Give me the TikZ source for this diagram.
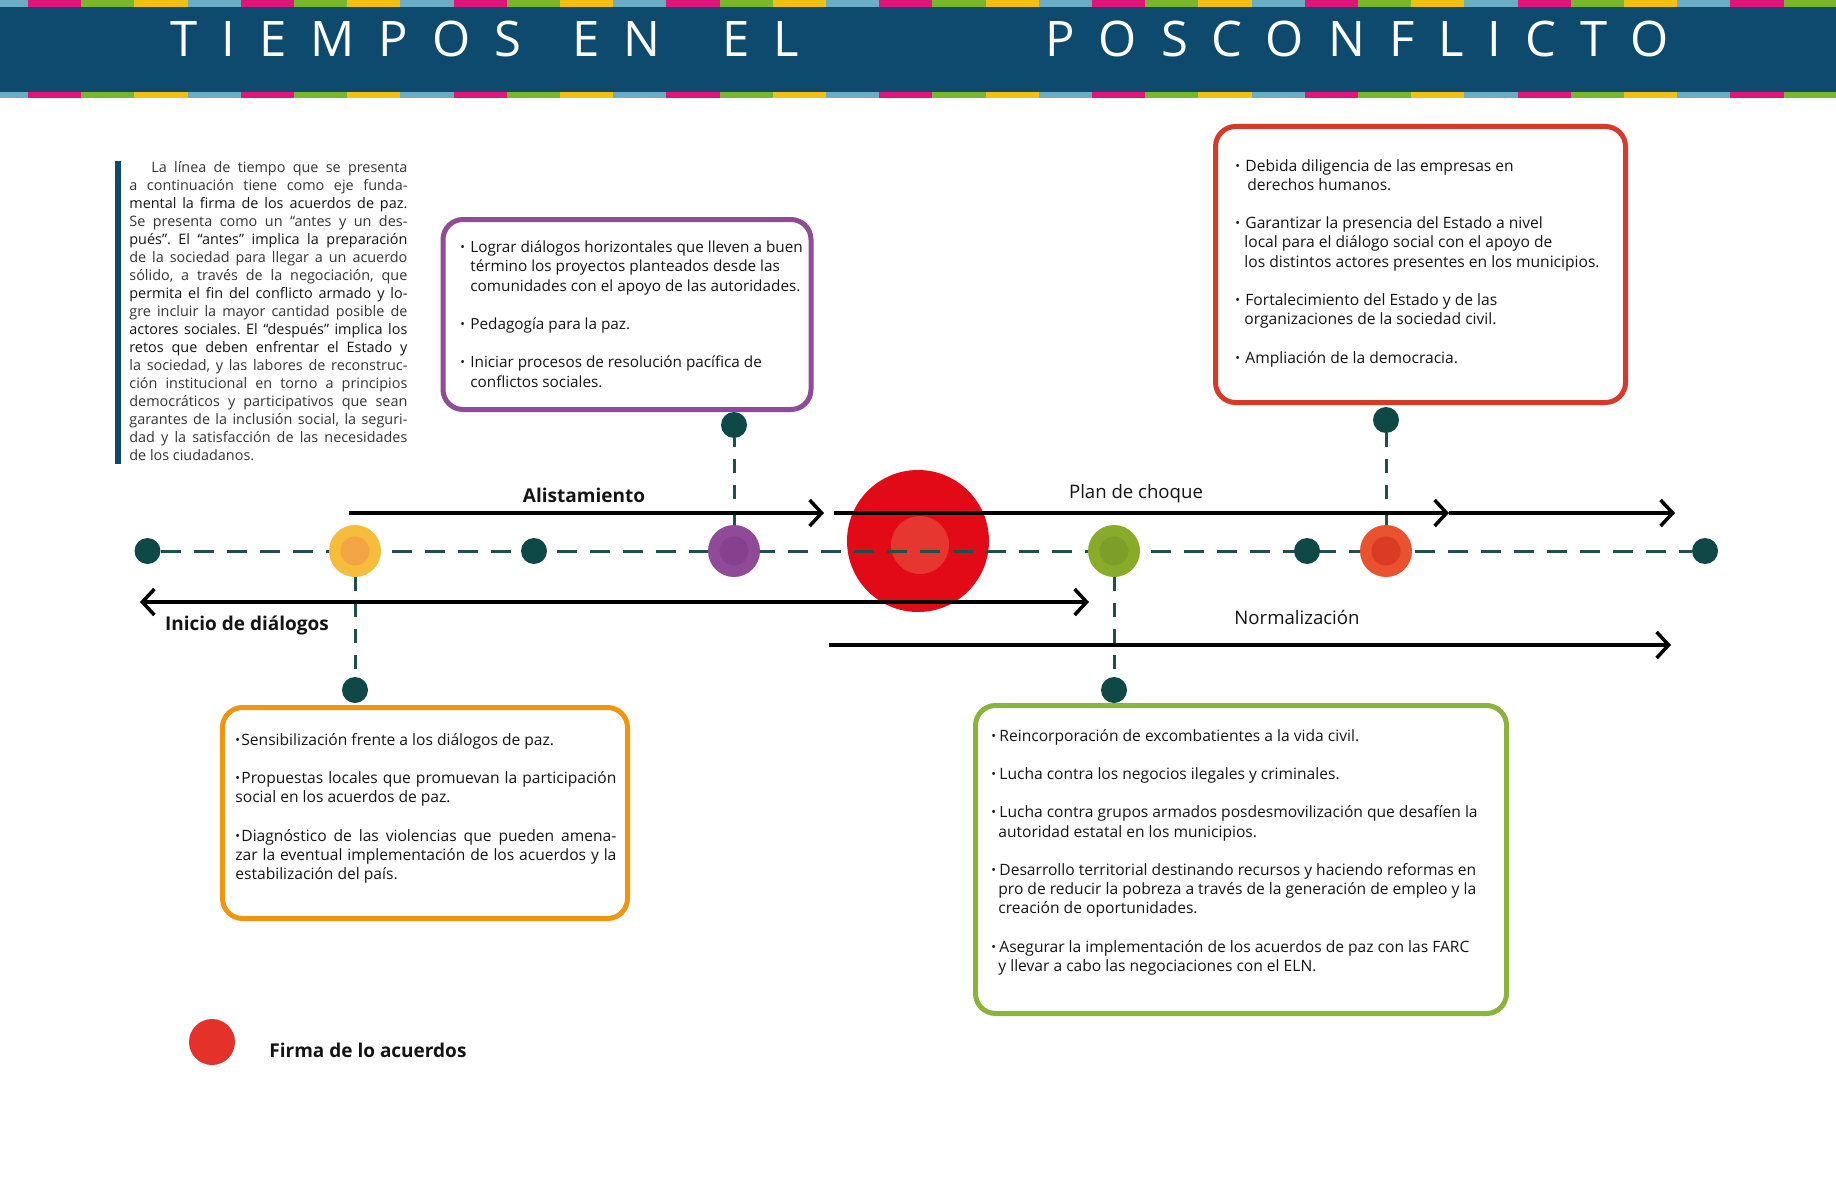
\documentclass[tikz,border=0pt]{standalone}
\usepackage{fontspec}
\usepackage{graphicx}
\setmainfont{Open Sans}
\newfontfamily\titlefont[LetterSpace=49]{Open Sans}
\usetikzlibrary{arrows.meta}
\frenchspacing
\definecolor{hdr}{HTML}{0E4A6E}
\definecolor{sLB}{HTML}{6AAEC6}
\definecolor{sMG}{HTML}{DF157A}
\definecolor{sGR}{HTML}{7AB52E}
\definecolor{sYL}{HTML}{F1C112}
\definecolor{dotc}{HTML}{0F4947}
\definecolor{linec}{HTML}{1D4F4E}
\definecolor{txt}{HTML}{141414}
\definecolor{txtl}{HTML}{343434}
\definecolor{bigred}{HTML}{E20A17}
\definecolor{bigredin}{HTML}{E5372F}
\definecolor{yelo}{HTML}{F6BD3C}\definecolor{yeli}{HTML}{F3A546}
\definecolor{puro}{HTML}{8F4B98}\definecolor{puri}{HTML}{86408E}
\definecolor{greo}{HTML}{88AC2A}\definecolor{grei}{HTML}{7E9E2A}
\definecolor{oreo}{HTML}{E9512F}\definecolor{orei}{HTML}{DB3A24}
\definecolor{legred}{HTML}{E4312A}
\definecolor{bxpur}{HTML}{8E4C97}
\definecolor{bxred}{HTML}{D73A2A}
\definecolor{bxora}{HTML}{F0950F}
\definecolor{bxgre}{HTML}{8AB33A}
\pgfdeclarelayer{bg}
\pgfsetlayers{bg,main}
\newcommand{\bul}[1][5pt]{\makebox[#1][l]{\raisebox{0.5pt}{\scalebox{.8}{•}}}}
\newcommand{\jl}[1]{\makebox[139pt][s]{#1}}
\newcommand{\jlt}[1]{\makebox[139pt][s]{\color{txtl}#1}}
\tikzset{
 titletxt/.style={font=\titlefont\fontsize{24.5}{28}\selectfont, text=white, inner sep=0pt, anchor=base west},
 para/.style={font=\fontsize{7.2}{9}\selectfont\frenchspacing, text=txt, inner sep=0pt, align=left, anchor=base west},
 boxtxt/.style={font=\fontsize{7.8}{9.6}\selectfont\frenchspacing, text=txt, inner sep=0pt, align=left, anchor=base west},
 infobox/.style={draw=#1, line width=2.5pt, rounded corners=10pt, inner sep=0pt, fill=white},
 tdot/.style={circle, fill=dotc, minimum size=13pt, inner sep=0pt},
 event/.style 2 args={circle, fill=#1, minimum size=26pt, inner sep=0pt,
   path picture={\fill[#2] (path picture bounding box.center) circle (7.25pt);}},
 maindash/.style={draw=linec, line width=1.5pt, dash pattern=on 10pt off 6.5pt},
 vdash/.style={draw=linec, line width=1.5pt, dash pattern=on 7pt off 6pt},
 arr/.style={draw=black, line width=1.75pt, -{Straight Barb[length=6pt,width=13pt]}},
 arrboth/.style={draw=black, line width=1.75pt, {Straight Barb[length=6pt,width=13pt]}-{Straight Barb[length=6pt,width=13pt]}},
 lbl/.style={font=\fontsize{9.3}{11}\selectfont, text=txt, inner sep=0pt, anchor=base},
 lblb/.style={font=\bfseries\fontsize{9.5}{11}\selectfont, text=txt, inner sep=0pt, anchor=base},
}
\begin{document}
\begin{tikzpicture}[x=0.5pt,y=-0.5pt]
\useasboundingbox (0,0) rectangle (1836,1188);
\begin{pgfonlayer}{bg}
\fill[white] (0,0) rectangle (1836,1188);
\end{pgfonlayer}
% header
\fill[hdr] (0,0) rectangle (1836,98);
\foreach \i in {0,...,8}{
  \foreach \c [count=\j from 0] in {sLB,sMG,sGR,sYL}{
    \pgfmathsetmacro\xa{-25.2+\i*212.8+\j*53.2}
    \fill[\c] (\xa,0) rectangle ++(53.2,7);
    \fill[\c] (\xa,92) rectangle ++(53.2,6.5);
  }
}
\node[titletxt] (tw1) at (170,57) {TIEMPOS};
\node[titletxt] (tw2) at (572,57) {EN};
\node[titletxt] (tw3) at (722,57) {EL};
\node[titletxt] (tw4) at (1045,57) {POSCONFLICTO};
% intro
\fill[hdr] (115,161) rectangle (121,464);
\node[para] (intro) at (129,460) {%
\hspace*{11pt}\makebox[128pt][s]{\color{txtl}La línea de tiempo que se presenta}\\
\jlt{a continuación tiene como eje funda-}\\
\jl{mental la firma de los acuerdos de paz.}\\
\jlt{Se presenta como un “antes y un des-}\\
\jl{pués”. El “antes” implica la preparación}\\
\jlt{de la sociedad para llegar a un acuerdo}\\
\jlt{sólido, a través de la negociación, que}\\
\jl{permita el fin del conflicto armado y lo-}\\
\jlt{gre incluir la mayor cantidad posible de}\\
\jl{actores sociales. El “después” implica los}\\
\jl{retos que deben enfrentar el Estado y}\\
\jlt{la sociedad, y las labores de reconstruc-}\\
\jlt{ción institucional en torno a principios}\\
\jlt{democráticos y participativos que sean}\\
\jlt{garantes de la inclusión social, la seguri-}\\
\jlt{dad y la satisfacción de las necesidades}\\
{\color{txtl}de los ciudadanos.}};
% boxes
\node[infobox=bxpur, minimum width=184pt, minimum height=95pt] (pbox) at (627,314.5) {};
\node[infobox=bxred, minimum width=205pt, minimum height=138pt] (rbox) at (1420.5,264.5) {};
\node[infobox=bxora, minimum width=202.5pt, minimum height=105.5pt] (obox) at (425,813) {};
\node[infobox=bxgre, minimum width=265.5pt, minimum height=154pt] (gbox) at (1241,859.5) {};
\node[boxtxt, font=\fontsize{7.65}{9.6}\selectfont] (ptxt) at (460,387) {\bul Lograr diálogos horizontales que lleven a buen\\
\hspace*{5pt}término los proyectos planteados desde las\\
\hspace*{5pt}comunidades con el apoyo de las autoridades.\\[9.6pt]
\bul Pedagogía para la paz.\\[9.6pt]
\bul Iniciar procesos de resolución pacífica de\\
\hspace*{5pt}conflictos sociales.};
\node[boxtxt] (rtxt) at (1235,363) {\bul Debida diligencia de las empresas en\\
\hspace*{6pt}derechos humanos.\\[9.6pt]
\bul Garantizar la presencia del Estado a nivel\\
\hspace*{4.5pt}local para el diálogo social con el apoyo de\\
\hspace*{4.5pt}los distintos actores presentes en los municipios.\\[9.6pt]
\bul Fortalecimiento del Estado y de las\\
\hspace*{4.5pt}organizaciones de la sociedad civil.\\[9.6pt]
\bul Ampliación de la democracia.};
\node[boxtxt] (otxt) at (235,879.5) {\bul[3pt]Sensibilización frente a los diálogos de paz.\\[9.6pt]
\makebox[190.5pt][s]{\bul[3pt]Propuestas locales que promuevan la participación}\\
social en los acuerdos de paz.\\[9.6pt]
\makebox[190.5pt][s]{\bul[3pt]Diagnóstico de las violencias que pueden amena-}\\
\makebox[190.5pt][s]{zar la eventual implementación de los acuerdos y la}\\
estabilización del país.};
\node[boxtxt] (gtxt) at (991,971.5) {\bul[4pt]Reincorporación de excombatientes a la vida civil.\\[9.6pt]
\bul[4pt]Lucha contra los negocios ilegales y criminales.\\[9.6pt]
\bul[4pt]Lucha contra grupos armados posdesmovilización que desafíen la\\
\hspace*{3.5pt}autoridad estatal en los municipios.\\[9.6pt]
\bul[4pt]Desarrollo territorial destinando recursos y haciendo reformas en\\
\hspace*{3.5pt}pro de reducir la pobreza a través de la generación de empleo y la\\
\hspace*{3.5pt}creación de oportunidades.\\[9.6pt]
\bul[4pt]Asegurar la implementación de los acuerdos de paz con las FARC\\
\hspace*{3.5pt}y llevar a cabo las negociaciones con el ELN.};
% timeline events
\node[tdot] (d1) at (147.5,551) {};
\node[event={yelo}{yeli}] (e1) at (355,551) {};
\node[tdot] (d2) at (534,551) {};
\node[event={puro}{puri}] (e2) at (734,551) {};
\node[event={greo}{grei}] (e3) at (1114,551) {};
\node[tdot] (d3) at (1307,551) {};
\node[event={oreo}{orei}] (e4) at (1386,551) {};
\node[tdot] (d4) at (1705,551) {};
\node[tdot] (k1) at (355,690) {};
\node[tdot] (k2) at (734,425) {};
\node[tdot] (k3) at (1114,690) {};
\node[tdot] (k4) at (1386,420) {};
\begin{pgfonlayer}{bg}
\node[circle, fill=bigred, minimum size=71pt, inner sep=0pt,
  path picture={\fill[bigredin] ([xshift=1pt,yshift=-2pt]path picture bounding box.center) circle (14.5pt);}] (firma) at (918,541) {};
\draw[maindash] (d1) -- (d4);
\end{pgfonlayer}
\draw[vdash] (e1) -- (k1);
\draw[vdash] (e2) -- (k2);
\draw[vdash] (e3) -- (k3);
\draw[vdash] (e4) -- (k4);
% arrows
\coordinate (al-s) at (349,513);
\coordinate (al-e) at (824,513);
\coordinate (pc-s) at (834,513);
\coordinate (pc-m) at (1449,513);
\coordinate (pc-e) at (1675,513);
\coordinate (in-s) at (140,602);
\coordinate (in-e) at (1089,602);
\coordinate (no-s) at (829,645);
\coordinate (no-e) at (1671,645);
\draw[arr] (al-s) -- (al-e);
\draw[arr] (pc-s) -- (pc-m);
\draw[arr] (pc-m) -- (pc-e);
\draw[arrboth] (in-s) -- (in-e);
\draw[arr] (no-s) -- (no-e);
\node[lblb] (al-l) at (584,502) {Alistamiento};
\node[lbl] (pc-l) at (1136,498) {Plan de choque};
\node[lblb] (in-l) at (247,630) {Inicio de diálogos};
\node[lbl] (no-l) at (1297,624) {Normalización};
% legend
\node[circle, fill=legred, minimum size=23pt, inner sep=0pt] (leg) at (212,1042) {};
\node[lblb, anchor=base west] (leg-l) at (269,1057) {Firma de lo acuerdos};
\end{tikzpicture}
\end{document}
